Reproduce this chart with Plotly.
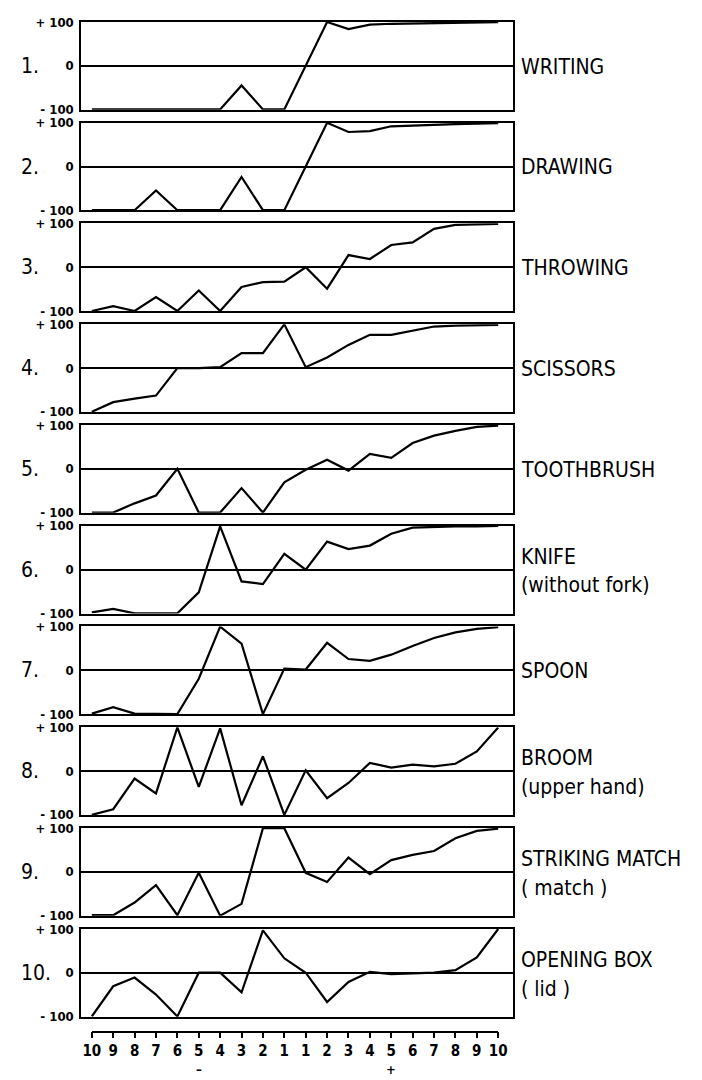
import plotly.graph_objects as go

# ---------------- data ----------------
X_LABELS = ["10", "9", "8", "7", "6", "5", "4", "3", "2", "1",
            "1", "2", "3", "4", "5", "6", "7", "8", "9", "10"]

TASK_NUMBERS = ["1.", "2.", "3.", "4.", "5.", "6.", "7.", "8.", "9.", "10."]
TASK_LINE1 = ["WRITING", "DRAWING", "THROWING", "SCISSORS", "TOOTHBRUSH",
              "KNIFE", "SPOON", "BROOM", "STRIKING MATCH", "OPENING BOX"]
TASK_LINE2 = ["", "", "", "", "", "(without fork)", "", "(upper hand)",
              "( match )", "( lid )"]

writing = [-100, -100, -100, -100, -100, -100, -100, -45, -100, -100,
           0, 100, 84, 94, 96, 97, 98, 99, 100, 100]
drawing = [-100, -100, -100, -55, -100, -100, -100, -24, -100, -100,
           0, 100, 79, 81, 92, 94, 95, 97, 98, 99]
throwing = [-100, -89, -100, -68, -100, -53, -100, -45, -34, -33,
            0, -49, 28, 19, 51, 57, 88, 97, 98, 99]
scissors = [-100, -78, -70, -63, 0, 0, 2, 34, 34, 100,
            2, 24, 53, 76, 76, 86, 95, 97, 98, 99]
toothbrush = [-100, -100, -79, -61, 0, -100, -100, -44, -100, -31,
              -2, 21, -4, 34, 25, 59, 76, 87, 96, 99]
knife = [-98, -90, -100, -100, -100, -52, 99, -27, -33, 36,
         0, 64, 47, 55, 82, 96, 98, 99, 99, 100]
spoon = [-99, -84, -99, -100, -100, -19, 100, 61, -100, 4,
         2, 63, 26, 22, 36, 56, 74, 87, 95, 99]
broom = [-100, -87, -17, -51, 100, -36, 98, -78, 34, -100,
         2, -62, -27, 19, 8, 15, 11, 17, 45, 100]
striking_match = [-99, -99, -70, -30, -99, -2, -100, -73, 100, 100,
                  -2, -23, 33, -5, 27, 39, 48, 77, 94, 99]
opening_box = [-100, -31, -11, -50, -100, 0, 0, -45, 97, 33,
               0, -67, -21, 2, -3, -2, 0, 6, 35, 100]

SERIES = [writing, drawing, throwing, scissors, toothbrush,
          knife, spoon, broom, striking_match, opening_box]

Y_TICKVALS = [-100, 0, 100]
Y_TICKTEXT = ["- 100", "0", "+ 100"]
SIGN_LABELS = ["\u2013", "+"]   # under the "5" of each half

# ---------------- layout geometry (pixels) ----------------
W, H = 702, 1080
BOX_L, BOX_R = 74, 517
TOP0, PITCH, BOX_H = 15, 102.1, 89
AX_L, AX_R, AX_Y = 85, 502, 1036

COND = "Liberation Sans Narrow, DejaVu Sans Condensed, Roboto Condensed, Arial Narrow, sans-serif"

positions = list(range(len(X_LABELS)))

fig = go.Figure()
layout = dict(
    width=W, height=H,
    margin=dict(l=0, r=0, t=0, b=0),
    paper_bgcolor="white", plot_bgcolor="white",
    showlegend=False,
    annotations=[],
)

for i, ys in enumerate(SERIES):
    n = i + 1
    xa = "x" if n == 1 else f"x{n}"
    ya = "y" if n == 1 else f"y{n}"
    top = TOP0 + PITCH * i
    bot = top + BOX_H
    fig.add_trace(go.Scatter(
        x=positions, y=ys, mode="lines", xaxis=xa, yaxis=ya,
        line=dict(color="black", width=2.2), hoverinfo="skip"))
    layout[f"xaxis{'' if n == 1 else n}"] = dict(
        domain=[BOX_L / W, BOX_R / W], anchor=ya,
        range=[-0.501, 19.68], showticklabels=False, ticks="",
        showgrid=False, zeroline=False,
        showline=True, mirror=True, linecolor="black", linewidth=1.6,
        fixedrange=True)
    layout[f"yaxis{'' if n == 1 else n}"] = dict(
        domain=[1 - bot / H, 1 - top / H], anchor=xa,
        range=[-100.5, 100.5], tickvals=Y_TICKVALS, ticktext=Y_TICKTEXT,
        ticks="", ticklabelstandoff=3,
        tickfont=dict(family=COND, size=13, color="black", weight="bold"),
        showgrid=False, zeroline=True, zerolinecolor="black", zerolinewidth=1.6,
        showline=True, mirror=True, linecolor="black", linewidth=1.6,
        fixedrange=True)

    zero_px = (top + bot) / 2
    # panel number
    layout["annotations"].append(dict(
        x=10 / W, y=1 - zero_px / H, xref="paper", yref="paper",
        xanchor="left", yanchor="middle", showarrow=False,
        text=TASK_NUMBERS[i],
        font=dict(family=COND, size=21, color="black")))
    # right-hand labels
    if TASK_LINE2[i]:
        y1, y2 = zero_px - 13, zero_px + 16
        layout["annotations"].append(dict(
            x=523 / W, y=1 - y1 / H, xref="paper", yref="paper",
            xanchor="left", yanchor="middle", showarrow=False,
            text=TASK_LINE1[i], font=dict(family=COND, size=21, color="black")))
        layout["annotations"].append(dict(
            x=523 / W, y=1 - y2 / H, xref="paper", yref="paper",
            xanchor="left", yanchor="middle", showarrow=False,
            text=TASK_LINE2[i], font=dict(family=COND, size=21, color="black")))
    else:
        layout["annotations"].append(dict(
            x=523 / W, y=1 - (zero_px + 1) / H, xref="paper", yref="paper",
            xanchor="left", yanchor="middle", showarrow=False,
            text=TASK_LINE1[i], font=dict(family=COND, size=21, color="black")))

# bottom scale axis (separate)
fig.add_trace(go.Scatter(x=[0, 19], y=[0, 0], xaxis="x11", yaxis="y11",
                         mode="markers", marker=dict(opacity=0),
                         hoverinfo="skip"))
layout["xaxis11"] = dict(
    domain=[AX_L / W, AX_R / W], anchor="y11", range=[0, 19],
    tickvals=positions, ticktext=X_LABELS, tickmode="array",
    ticks="outside", ticklen=6, tickwidth=1.6, tickcolor="black",
    tickfont=dict(family=COND, size=15, color="black", weight="bold"),
    showline=True, linecolor="black", linewidth=1.6, side="bottom",
    showgrid=False, zeroline=False, fixedrange=True)
layout["yaxis11"] = dict(
    domain=[1 - (AX_Y + 1) / H, 1 - AX_Y / H], anchor="x11",
    visible=False, range=[-1, 1], fixedrange=True)

for idx, s in zip([5, 14], SIGN_LABELS):
    layout["annotations"].append(dict(
        x=idx, y=1 - 1076 / H, xref="x11", yref="paper",
        xanchor="center", yanchor="middle", showarrow=False, text=s,
        font=dict(family=COND, size=13, color="black", weight="bold")))

fig.update_layout(**layout)
fig.write_html("out.html")
